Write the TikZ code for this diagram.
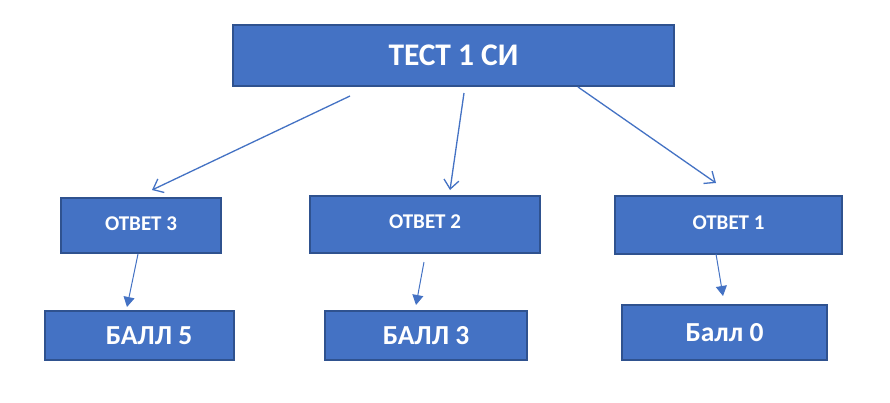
\documentclass[tikz,border=0pt]{standalone}
\usepackage{fontspec}
\setmainfont{Carlito}
\usetikzlibrary{arrows.meta}
\definecolor{boxfill}{HTML}{4472C4}
\definecolor{boxline}{HTML}{2F528F}
\begin{document}
\begin{tikzpicture}[x=1pt,y=-1pt,
  box/.style={draw=boxline,line width=1.5pt,fill=boxfill,text=white,font=\bfseries,inner sep=0pt,anchor=center},
  conn/.style={draw=boxfill,line width=1.3pt,-{Straight Barb[length=9pt,width=15pt,line width=1.3pt]}},
  connsmall/.style={draw=boxfill,line width=1pt,-{Triangle[length=10pt,width=11pt]}}]
\useasboundingbox (0,0) rectangle (890,402);
\fill[white] (0,0) rectangle (890,402);
\node[box,minimum width=441pt,minimum height=61pt,font=\bfseries\fontsize{31.5}{31.5}\selectfont] (top) at (453.5,55.5) {ТЕСТ 1 СИ};
\node[box,minimum width=160pt,minimum height=55pt,font=\bfseries\fontsize{21}{21}\selectfont] (o3) at (141,225.5) {\raisebox{4pt}{ОТВЕТ 3}};
\node[box,minimum width=230pt,minimum height=57pt,font=\bfseries\fontsize{21}{21}\selectfont] (o2) at (425,224.5) {\raisebox{5pt}{ОТВЕТ 2}};
\node[box,minimum width=227pt,minimum height=58pt,font=\bfseries\fontsize{21}{21}\selectfont] (o1) at (728.5,225) {\raisebox{4pt}{ОТВЕТ 1}};
\node[box,minimum width=189pt,minimum height=49pt,font=\bfseries\fontsize{27.5}{27.5}\selectfont] (b5) at (139.5,335.5) {\hspace*{19pt}\raisebox{-2pt}{БАЛЛ 5}};
\node[box,minimum width=202pt,minimum height=49pt,font=\bfseries\fontsize{27.5}{27.5}\selectfont] (b3) at (426,335.5) {\raisebox{-4pt}{БАЛЛ 3}};
\node[box,minimum width=205pt,minimum height=55pt,font=\bfseries\fontsize{27.5}{27.5}\selectfont] (b0) at (724.5,332.5) {Балл 0};
\coordinate (a1s) at (350,96);  \coordinate (a1e) at (152,190);
\coordinate (a2s) at (464,93);  \coordinate (a2e) at (450,190);
\coordinate (a3s) at (578,87);  \coordinate (a3e) at (716,183);
\coordinate (l1s) at (138,254); \coordinate (l1e) at (127,307);
\coordinate (l2s) at (424,262); \coordinate (l2e) at (416,305);
\coordinate (l3s) at (716,254); \coordinate (l3e) at (723,296);
\draw[conn] (a1s) -- (a1e);
\draw[conn] (a2s) -- (a2e);
\draw[conn] (a3s) -- (a3e);
\draw[connsmall] (l1s) -- (l1e);
\draw[connsmall] (l2s) -- (l2e);
\draw[connsmall] (l3s) -- (l3e);
\end{tikzpicture}
\end{document}
